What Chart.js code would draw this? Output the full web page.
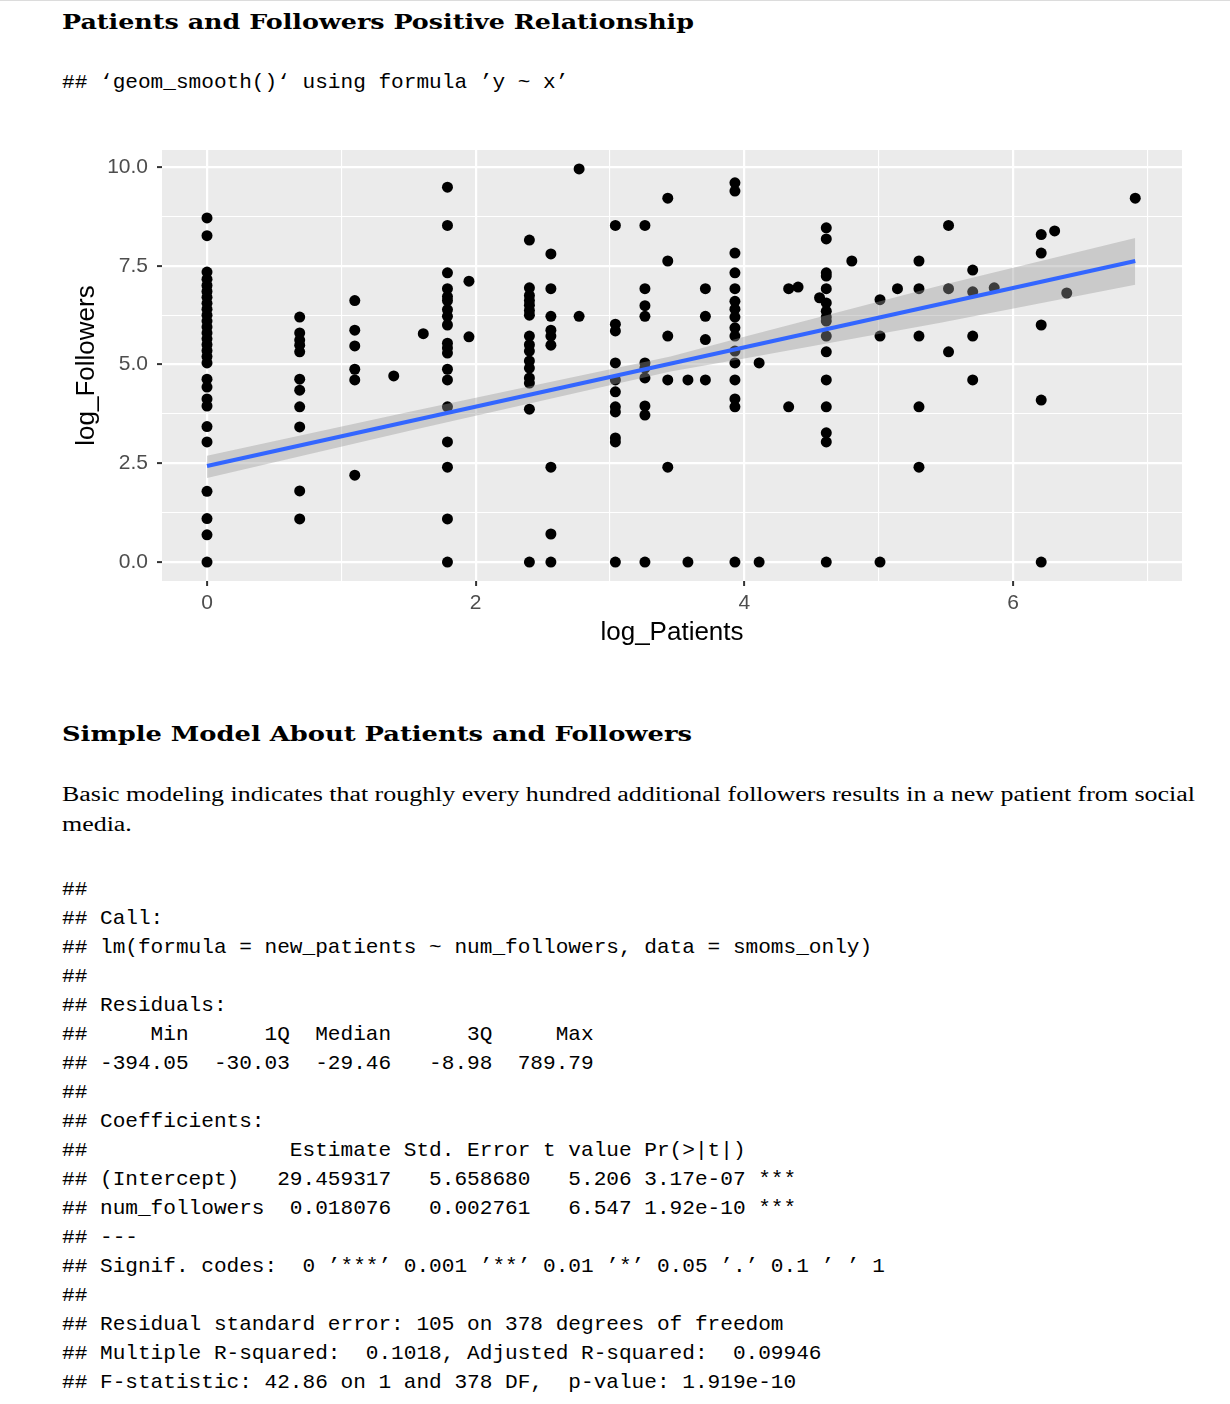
<!DOCTYPE html>
<html>
<head>
<meta charset="utf-8">
<script src="https://cdn.jsdelivr.net/npm/chart.js@4.4.0/dist/chart.umd.min.js"></script>
<style>
  html, body { margin: 0; padding: 0; background: #fff; }
  body { width: 1230px; height: 1404px; position: relative; overflow: hidden; }
  .topline { position: absolute; left: 0; top: 0; width: 1230px; height: 1px; background: #dcdcdc; }
  .h { position: absolute; left: 62px; font-family: "DejaVu Serif", serif; font-weight: bold; font-size: 21px; line-height: 30px; white-space: nowrap; transform-origin: 0 0; color: #000; }
  .p { position: absolute; left: 62px; font-family: "Liberation Serif", serif; font-size: 20px; line-height: 29.5px; white-space: nowrap; transform-origin: 0 0; color: #000; }
  .code { position: absolute; left: 62px; margin: 0; font-family: "Liberation Mono", monospace; font-size: 21.1px; line-height: 29px; white-space: pre; color: #000; }
  #wrap { position: absolute; left: 62px; top: 140px; width: 1130px; height: 520px; }
</style>
</head>
<body>
<div class="topline"></div>
<div class="h" style="top:7px" data-w="632">Patients and Followers Positive Relationship</div>
<pre class="code" style="top:68px">## ‘geom_smooth()‘ using formula ’y ~ x’</pre>

<div id="wrap"><canvas id="plot"></canvas></div>

<div class="h" style="top:719px" data-w="630">Simple Model About Patients and Followers</div>
<div class="p" style="top:780px" data-w="1133">Basic modeling indicates that roughly every hundred additional followers results in a new patient from social<br>media.</div>

<pre class="code" style="top:875px">##
## Call:
## lm(formula = new_patients ~ num_followers, data = smoms_only)
##
## Residuals:
##     Min      1Q  Median      3Q     Max
## -394.05  -30.03  -29.46   -8.98  789.79
##
## Coefficients:
##                Estimate Std. Error t value Pr(&gt;|t|)
## (Intercept)   29.459317   5.658680   5.206 3.17e-07 ***
## num_followers  0.018076   0.002761   6.547 1.92e-10 ***
## ---
## Signif. codes:  0 ’***’ 0.001 ’**’ 0.01 ’*’ 0.05 ’.’ 0.1 ’ ’ 1
##
## Residual standard error: 105 on 378 degrees of freedom
## Multiple R-squared:  0.1018, Adjusted R-squared:  0.09946
## F-statistic: 42.86 on 1 and 378 DF,  p-value: 1.919e-10</pre>

<script>
// stretch the serif text to the widths in the picture
document.querySelectorAll('[data-w]').forEach(el => {
    const w = el.getBoundingClientRect().width;
    el.style.transform = 'scaleX(' + (+el.dataset.w / w) + ')';
});

// ---------------- DATA ----------------
const patientLevels = [0, 0.69, 1.1, 1.39, 1.61, 1.79, 1.95, 2.4, 2.56, 2.77, 3.04, 3.26, 3.43, 3.58, 3.71, 3.93,
    4.11, 4.33, 4.4, 4.56, 4.61, 4.8, 5.01, 5.14, 5.3, 5.52, 5.7, 5.86, 6.21, 6.31, 6.4, 6.91];

const followersAtLevel = [
    [8.71, 8.26, 7.34, 7.16, 7.0, 6.85, 6.7, 6.55, 6.4, 6.25, 6.1, 5.95, 5.8, 5.65, 5.5, 5.35, 5.2, 5.04, 4.63, 4.43, 4.13, 3.95, 3.43, 3.04, 1.79, 1.1, 0.69, 0],
    [6.2, 5.8, 5.62, 5.49, 5.32, 4.63, 4.35, 3.93, 3.42, 1.8, 1.09],
    [6.62, 5.87, 5.47, 4.88, 4.61, 2.2],
    [4.71],
    [5.78],
    [9.49, 8.52, 7.32, 6.92, 6.72, 6.62, 6.39, 6.22, 6.0, 5.54, 5.42, 5.29, 4.88, 4.61, 3.93, 3.04, 2.4, 1.09, 0],
    [7.11, 5.7],
    [8.15, 6.94, 6.75, 6.62, 6.5, 6.37, 6.25, 5.72, 5.5, 5.34, 5.09, 4.91, 4.66, 4.53, 3.87, 0],
    [7.8, 6.92, 6.22, 5.87, 5.72, 5.49, 2.4, 0.71, 0],
    [9.95, 6.22],
    [8.52, 6.02, 5.85, 5.04, 4.61, 4.31, 3.93, 3.8, 3.14, 3.04, 0],
    [8.52, 6.92, 6.49, 6.22, 5.04, 4.91, 4.66, 3.95, 3.72, 0],
    [9.21, 7.62, 5.72, 4.61, 2.4],
    [4.61, 0],
    [6.92, 6.22, 5.63, 4.61],
    [9.6, 9.39, 7.82, 7.32, 6.92, 6.6, 6.4, 6.2, 5.93, 5.72, 5.34, 5.04, 4.61, 4.13, 3.93, 0],
    [5.04, 0],
    [6.92, 3.93],
    [6.96],
    [6.69],
    [8.46, 8.18, 7.32, 7.24, 6.92, 6.56, 6.35, 6.2, 6.1, 5.72, 5.32, 4.61, 3.93, 3.27, 3.04, 0],
    [7.62],
    [6.64, 5.72, 0],
    [6.92],
    [7.62, 6.92, 5.72, 3.93, 2.4],
    [8.52, 6.92, 5.32],
    [7.39, 6.84, 5.72, 4.61],
    [6.94],
    [8.29, 7.82, 6.0, 4.1, 0],
    [8.38],
    [6.81],
    [9.21]
];

// lm smooth
const fitX = [0, 6.91];
const fitY = [2.43, 7.62];
const bandX = [0, 1.5, 3.45, 4.0, 5.46, 6.91];
const bandLow = [2.13, 3.32, 4.82, 5.15, 6.06, 7.02];
const bandHigh = [2.69, 3.80, 5.20, 5.70, 7.0, 8.2];

// axis ticks
const xGrid = [0, 1, 2, 3, 4, 5, 6, 7];
const xMajor = [0, 2, 4, 6];
const yGrid = [0, 1.25, 2.5, 3.75, 5, 6.25, 7.5, 8.75, 10];
const yMajor = [0, 2.5, 5, 7.5, 10];

// ---------------- BUILD ----------------
const points = patientLevels.flatMap((x, i) => followersAtLevel[i].map(y => ({ x: x, y: y })));
const toXY = (xs, ys) => xs.map((x, i) => ({ x: x, y: ys[i] }));

const panelBg = {
    id: "panelBg",
    beforeDraw(chart) {
        const { ctx, chartArea: a } = chart;
        ctx.save();
        ctx.fillStyle = "#EBEBEB";
        ctx.fillRect(a.left, a.top, a.right - a.left, a.bottom - a.top);
        ctx.restore();
    }
};

const tickFont = { family: "Liberation Sans", size: 21 };
const titleFont = { family: "Liberation Sans", size: 26 };

new Chart(document.getElementById("plot"), {
    type: "scatter",
    data: {
        datasets: [
            {
                data: points,
                backgroundColor: "#000",
                borderWidth: 0,
                pointRadius: 5.5,
                order: 3
            },
            {
                type: "line",
                data: toXY(bandX, bandHigh),
                borderColor: "rgba(0,0,0,0)",
                borderWidth: 0,
                pointRadius: 0,
                fill: "+1",
                backgroundColor: "rgba(153,153,153,0.4)",
                order: 2
            },
            {
                type: "line",
                data: toXY(bandX, bandLow),
                borderColor: "rgba(0,0,0,0)",
                borderWidth: 0,
                pointRadius: 0,
                fill: false,
                order: 2
            },
            {
                type: "line",
                data: toXY(fitX, fitY),
                borderColor: "#3366FF",
                borderWidth: 4,
                pointRadius: 0,
                fill: false,
                order: 1
            }
        ]
    },
    options: {
        responsive: true,
        maintainAspectRatio: false,
        animation: false,
        events: [],
        layout: { padding: { top: 10, right: 10, left: 0, bottom: 0 } },
        plugins: { legend: { display: false }, tooltip: { enabled: false } },
        scales: {
            x: {
                type: "linear",
                min: -0.335,
                max: 7.258,
                afterBuildTicks: s => { s.ticks = xGrid.map(v => ({ value: v })); },
                afterFit: s => { s.height = 79; s.paddingLeft = 0; s.paddingRight = 0; },
                border: { display: false },
                grid: {
                    color: "#fff",
                    lineWidth: c => (c.tick && xMajor.includes(c.tick.value)) ? 2.2 : 1.1,
                    tickLength: 5,
                    tickWidth: 2,
                    tickColor: c => (c.tick && xMajor.includes(c.tick.value)) ? "#333333" : "rgba(0,0,0,0)"
                },
                ticks: {
                    autoSkip: false,
                    maxRotation: 0,
                    padding: 5,
                    color: "#4D4D4D",
                    font: tickFont,
                    callback: v => xMajor.includes(v) ? String(v) : ""
                },
                title: { display: true, text: "log_Patients", color: "#000", font: titleFont, padding: { top: 0, bottom: 12 } }
            },
            y: {
                type: "linear",
                min: -0.48,
                max: 10.43,
                afterBuildTicks: s => { s.ticks = yGrid.map(v => ({ value: v })); },
                afterFit: s => { s.width = 100; s.paddingTop = 0; s.paddingBottom = 0; },
                border: { display: false },
                grid: {
                    color: "#fff",
                    lineWidth: c => (c.tick && yMajor.includes(c.tick.value)) ? 2.2 : 1.1,
                    tickLength: 5,
                    tickWidth: 2,
                    tickColor: c => (c.tick && yMajor.includes(c.tick.value)) ? "#333333" : "rgba(0,0,0,0)"
                },
                ticks: {
                    autoSkip: false,
                    padding: 9,
                    color: "#4D4D4D",
                    font: tickFont,
                    callback: v => yMajor.includes(v) ? v.toFixed(1) : ""
                },
                title: { display: true, text: "log_Followers", color: "#000", font: titleFont, padding: { top: 9, bottom: 0 } }
            }
        }
    },
    plugins: [panelBg]
});
</script>
</body>
</html>
